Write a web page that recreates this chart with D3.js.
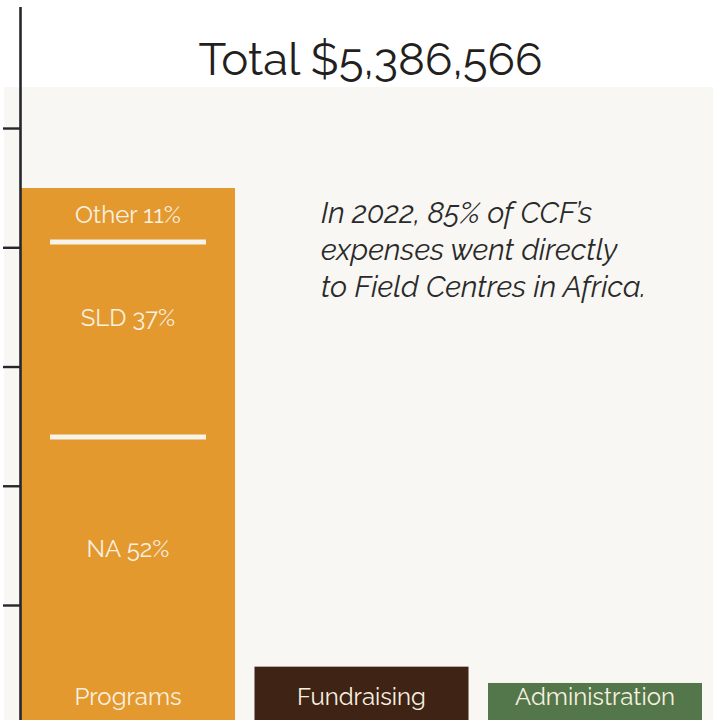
<!DOCTYPE html>
<html>
<head>
<meta charset="utf-8">
<script src="https://cdn.jsdelivr.net/npm/d3@7"></script>
<style>
  html, body { margin: 0; padding: 0; background: #ffffff; }
  svg { display: block; }
</style>
</head>
<body>
<svg id="chart" width="713" height="720"></svg>
<script>
// ---- data ----
const categories = ["Programs", "Fundraising", "Administration"];
const values = [4497000, 483000, 346000];
const barColors = ["#e3992e", "#3f2314", "#53774a"];

const segmentNames = ["NA", "SLD", "Other"];
const segmentShares = [52, 37, 11];
const segmentValues = [2409000, 1635000, 453000];

const tickValues = [1000000, 2000000, 3000000, 4000000, 5000000];
const titleText = "Total $5,386,566";
const noteLines = ["In 2022, 85% of CCF\u2019s", "expenses went directly", "to Field Centres in Africa."];

// ---- layout ----
const W = 713, H = 720;
const svg = d3.select("#chart");
const font = "Raleway, Lato, 'Open Sans', sans-serif";

const y = d3.scaleLinear().domain([0, 6020000]).range([724.25, 6.4]);
const x = d3.scaleBand().domain(categories).range([21, 702]).paddingInner(0.0835).paddingOuter(0);

// panel background
svg.append("rect").attr("x", 4).attr("y", 87).attr("width", W - 4).attr("height", H - 87).attr("fill", "#f8f7f3");

// title
svg.append("text")
  .attr("x", 370.5).attr("y", 75)
  .attr("text-anchor", "middle")
  .attr("font-family", font).attr("font-weight", 400).attr("font-size", 45.5)
  .attr("fill", "#231f20")
  .text(titleText);

// bars
svg.selectAll("rect.bar").data(categories).join("rect")
  .attr("class", "bar")
  .attr("x", d => x(d))
  .attr("y", (d, i) => y(values[i]))
  .attr("width", x.bandwidth())
  .attr("height", (d, i) => y(0) - y(values[i]))
  .attr("fill", (d, i) => barColors[i]);

// segments of Programs
const segs = [];
let cum = 0;
segmentValues.forEach((v, i) => { segs.push({ name: segmentNames[i], share: segmentShares[i], v0: cum, v1: cum + v }); cum += v; });
const px0 = x("Programs");
const bw = x.bandwidth();

// separators (between segments)
svg.selectAll("line.sep").data(segs.slice(0, -1)).join("line")
  .attr("class", "sep")
  .attr("x1", px0 + 29).attr("x2", px0 + bw - 29)
  .attr("y1", d => y(d.v1)).attr("y2", d => y(d.v1))
  .attr("stroke", "#f8f4ec").attr("stroke-width", 5);

// segment labels
svg.selectAll("text.seg").data(segs).join("text")
  .attr("class", "seg")
  .attr("x", px0 + bw / 2)
  .attr("y", d => {
    const top = y(d.v1), bot = y(d.v0), h = bot - top;
    const f = h < 100 ? 0.5 : 0.39;
    return top + f * h;
  })
  .attr("dy", "0.35em")
  .attr("text-anchor", "middle")
  .attr("font-family", font).attr("font-weight", 400).attr("font-size", 24)
  .attr("fill", "#f8f0e0")
  .text(d => `${d.name} ${d.share}%`);

// bar labels
svg.selectAll("text.cat").data(categories).join("text")
  .attr("class", "cat")
  .attr("x", d => x(d) + bw / 2)
  .attr("y", y(0) - 19)
  .attr("text-anchor", "middle")
  .attr("font-family", font).attr("font-weight", 400).attr("font-size", 24)
  .attr("fill", "#f8f0e0")
  .text(d => d);

// axis
const axis = d3.axisLeft(y).tickValues(tickValues).tickSize(17).tickSizeOuter(0).tickFormat("");
const g = svg.append("g").attr("transform", "translate(20,0)").call(axis);
g.select(".domain").attr("stroke", "#25272b").attr("stroke-width", 2.6);
g.selectAll(".tick line").attr("stroke", "#25272b").attr("stroke-width", 2.4);

// annotation
const note = svg.append("text")
  .attr("font-family", font).attr("font-style", "italic").attr("font-weight", 400).attr("font-size", 29.5)
  .attr("fill", "#2a2a2a");
note.selectAll("tspan").data(noteLines).join("tspan")
  .attr("x", 321).attr("y", (d, i) => 223.3 + i * 36.7)
  .text(d => d);
</script>
</body>
</html>
